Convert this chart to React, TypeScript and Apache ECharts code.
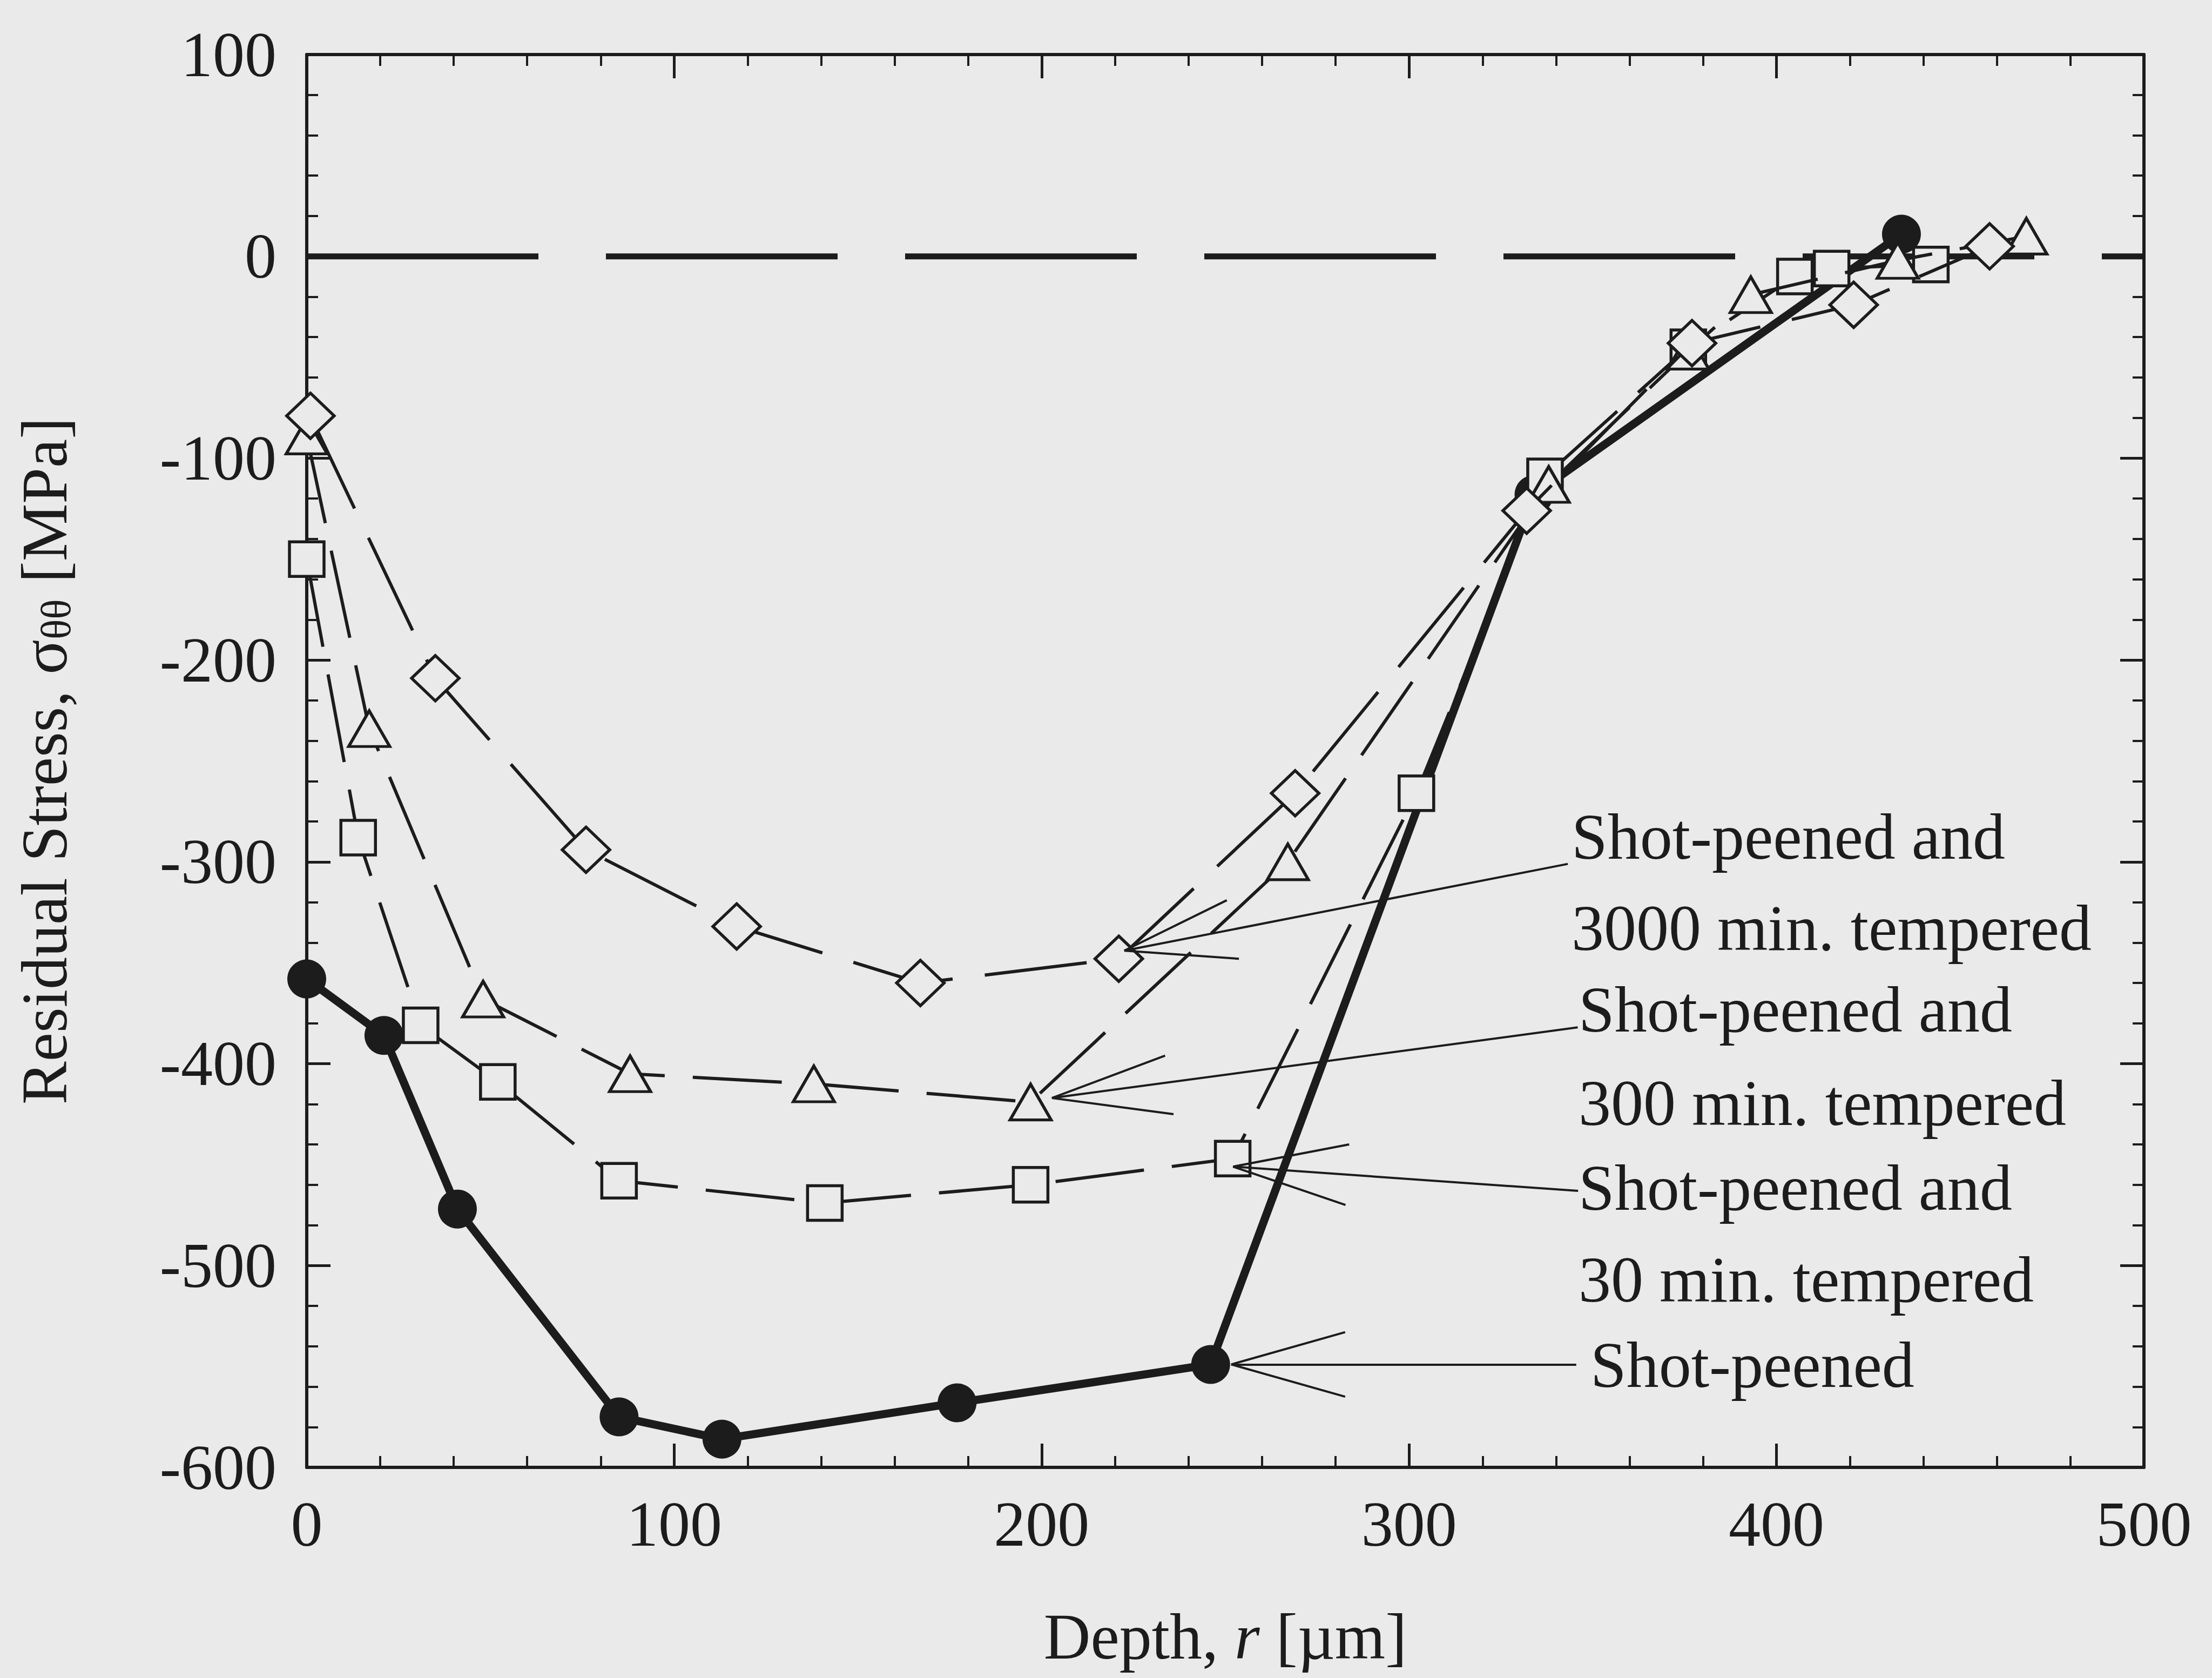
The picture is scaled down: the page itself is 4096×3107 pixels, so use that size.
import React, { useEffect, useRef } from "react";
import * as echarts from "echarts";

// ---- axes ----
const xMin = 0;
const xMax = 500;
const xStep = 100;
const yMin = -600;
const yMax = 100;
const yStep = 100;

// ---- series: Shot-peened (filled circles, thick solid) ----
const shotPeenedDepth = [0, 21, 41, 85, 113, 177, 246, 334, 434];
const shotPeenedStress = [-358, -386, -472, -575, -586, -568, -549, -118, 11];

// ---- series: Shot-peened and 30 min. tempered (squares, dashed) ----
const tempered30Depth = [0, 14, 31, 52, 85, 141, 197, 252, 302, 337, 376, 405, 415, 442];
const tempered30Stress = [-150, -288, -381, -409, -458, -469, -460, -447, -266, -109, -45, -10, -6, -4];

// ---- series: Shot-peened and 300 min. tempered (triangles, dashed) ----
const tempered300Depth = [0, 17, 48, 88, 138, 197, 267, 338, 376, 393, 433, 468];
const tempered300Stress = [-89, -234, -368, -405, -410, -419, -300, -113, -47, -19, -2, 10];

// ---- series: Shot-peened and 3000 min. tempered (diamonds, dashed) ----
const tempered3000Depth = [1, 35, 76, 117, 167, 221, 269, 332, 377, 421, 458];
const tempered3000Stress = [-79, -209, -294, -332, -360, -348, -266, -126, -43, -24, 5];

// ---- zero reference line ----
const zeroLineDepth = [0, 500];
const zeroLineStress = [0, 0];

// ---- annotation arrows (data units): tip, barbs, leader end ----
const arrowTips = [[222.5, -344], [202.8, -417], [252.1, -451], [251.6, -549]];
const arrowBarbUpper = [[250.4, -319], [233.6, -396], [283.7, -440], [282.6, -533]];
const arrowBarbLower = [[253.7, -348], [235.9, -425], [282.7, -470], [282.6, -565]];
const leaderEnds = [[343.2, -301], [345.9, -382], [346.0, -463], [345.5, -549]];

// ---- annotation texts ----
const annotationTexts = [
  "Shot-peened and",
  "3000 min. tempered",
  "Shot-peened and",
  "300 min. tempered",
  "Shot-peened and",
  "30 min. tempered",
  "Shot-peened",
];
const annotationPos = [
  [2910, 1549],
  [2910, 1718],
  [2923, 1869],
  [2923, 2042],
  [2923, 2199],
  [2923, 2369],
  [2945, 2527],
];

const INK = "#1c1c1c";
const BG = "#eaeaea";
const FONT = "Liberation Serif";

const pairs = (xs: number[], ys: number[]) => xs.map((x, i) => [x, ys[i]]);

export default function App() {
  const ref = useRef<HTMLDivElement>(null);

  useEffect(() => {
    const chart = echarts.init(ref.current!, null, { renderer: "svg" });

    const tickCommon = {
      axisLine: { show: true, onZero: false, lineStyle: { color: INK, width: 6 } },
      axisTick: { show: true, inside: true, length: 44, lineStyle: { color: INK, width: 5 } },
      minorTick: { show: true, splitNumber: 5, length: 21, lineStyle: { color: INK, width: 4 } },
      splitLine: { show: false },
      minorSplitLine: { show: false },
    };

    const labelStyle = {
      fontFamily: FONT,
      fontSize: 118,
      lineHeight: 118,
      color: INK,
    };

    const hollow = (symbol: string, size: any) => ({
      symbol,
      symbolSize: size,
      showSymbol: true,
      itemStyle: { color: BG, borderColor: INK, borderWidth: 5.5 },
    });

    const arrowData = arrowTips.flatMap((tip, i) => [
      { coords: [tip, leaderEnds[i]] },
      { coords: [tip, arrowBarbUpper[i]] },
      { coords: [tip, arrowBarbLower[i]] },
    ]);

    chart.setOption({
      animation: false,
      backgroundColor: BG,
      grid: { left: 568, right: 126, top: 101, bottom: 390, containLabel: false },
      xAxis: [
        {
          type: "value",
          position: "bottom",
          min: xMin,
          max: xMax,
          interval: xStep,
          ...tickCommon,
          axisLabel: { ...labelStyle, margin: 46, showMinLabel: true, showMaxLabel: true },
          name: "{a|Depth, }{i|r}{a| [µm]}",
          nameLocation: "middle",
          nameGap: 253,
          nameTextStyle: {
            fontFamily: FONT,
            fontSize: 120,
            color: INK,
            rich: {
              a: { fontFamily: FONT, fontSize: 120, color: INK, lineHeight: 120 },
              i: { fontFamily: FONT, fontSize: 120, color: INK, fontStyle: "italic", lineHeight: 120 },
            },
          },
        },
        {
          type: "value",
          position: "top",
          min: xMin,
          max: xMax,
          interval: xStep,
          ...tickCommon,
          axisLabel: { show: false },
        },
      ],
      yAxis: [
        {
          type: "value",
          position: "left",
          min: yMin,
          max: yMax,
          interval: yStep,
          ...tickCommon,
          axisLabel: { ...labelStyle, margin: 56, showMinLabel: true, showMaxLabel: true },
          name: "{a|Residual Stress, σ}{s|θθ}{a| [MPa]}",
          nameLocation: "middle",
          nameGap: 426,
          nameTextStyle: {
            fontFamily: FONT,
            fontSize: 120,
            color: INK,
            rich: {
              a: { fontFamily: FONT, fontSize: 120, color: INK, lineHeight: 120 },
              s: { fontFamily: FONT, fontSize: 78, color: INK, lineHeight: 44, verticalAlign: "bottom" },
            },
          },
        },
        {
          type: "value",
          position: "right",
          min: yMin,
          max: yMax,
          interval: yStep,
          ...tickCommon,
          axisLabel: { show: false },
        },
      ],
      series: [
        {
          name: "zero",
          type: "line",
          data: pairs(zeroLineDepth, zeroLineStress),
          symbol: "none",
          silent: true,
          z: 1,
          lineStyle: { color: INK, width: 11, type: [429, 125] },
        },
        {
          name: "Shot-peened",
          type: "line",
          data: pairs(shotPeenedDepth, shotPeenedStress),
          symbol: "circle",
          symbolSize: 72,
          showSymbol: true,
          clip: false,
          z: 2,
          itemStyle: { color: INK, borderColor: INK, borderWidth: 0 },
          lineStyle: { color: INK, width: 15, type: "solid" },
        },
        {
          name: "Shot-peened and 30 min. tempered",
          type: "line",
          data: pairs(tempered30Depth, tempered30Stress),
          ...hollow("rect", 64),
          clip: false,
          z: 3,
          lineStyle: { color: INK, width: 6, type: [165, 52] },
        },
        {
          name: "Shot-peened and 300 min. tempered",
          type: "line",
          data: pairs(tempered300Depth, tempered300Stress),
          ...hollow("triangle", [76, 66]),
          clip: false,
          z: 4,
          lineStyle: { color: INK, width: 6, type: [165, 52] },
        },
        {
          name: "Shot-peened and 3000 min. tempered",
          type: "line",
          data: pairs(tempered3000Depth, tempered3000Stress),
          ...hollow("diamond", [88, 84]),
          clip: false,
          z: 5,
          lineStyle: { color: INK, width: 6, type: [190, 60] },
        },
        {
          name: "arrows",
          type: "lines",
          coordinateSystem: "cartesian2d",
          silent: true,
          z: 6,
          lineStyle: { color: INK, width: 4, opacity: 1, curveness: 0 },
          data: arrowData,
        },
      ],
      graphic: annotationTexts.map((t, i) => ({
        type: "text",
        x: annotationPos[i][0],
        y: annotationPos[i][1],
        z: 10,
        silent: true,
        style: {
          text: t,
          fill: INK,
          fontFamily: FONT,
          fontSize: 120,
          align: "left",
          verticalAlign: "middle",
          textAlign: "left",
          textVerticalAlign: "middle",
        },
      })),
    });

    return () => chart.dispose();
  }, []);

  return (
    <div
      ref={ref}
      style={{ position: "absolute", left: 0, top: 0, width: 4096, height: 3107, background: BG }}
    />
  );
}
